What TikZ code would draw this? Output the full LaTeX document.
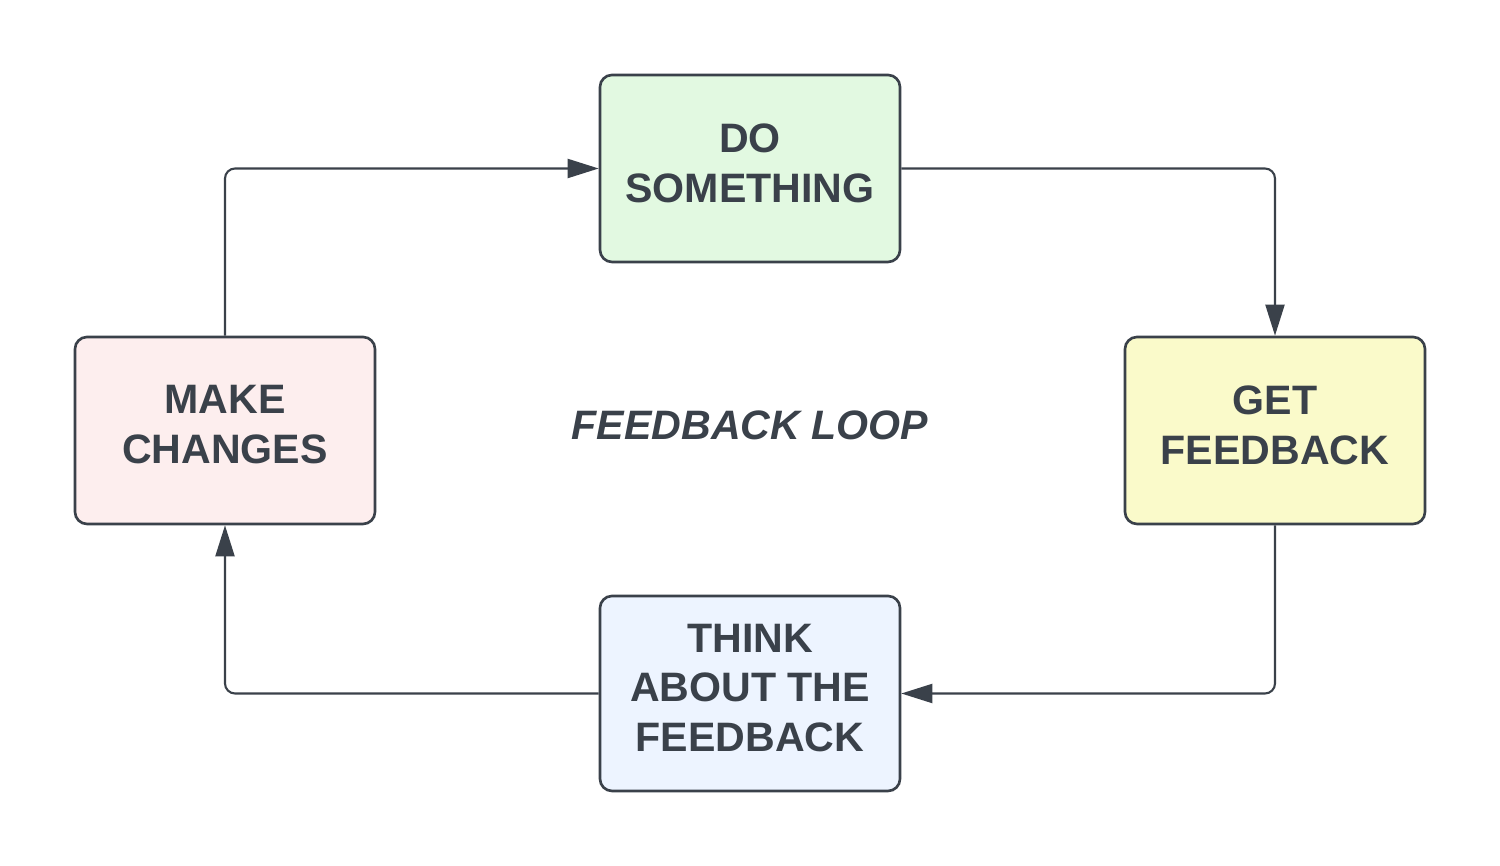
\documentclass[tikz,border=0pt]{standalone}
\usepackage{fontspec}
\setmainfont{Liberation Sans}
\usetikzlibrary{arrows.meta,positioning}

\definecolor{ink}{HTML}{3A414A}
\definecolor{dofill}{HTML}{E2F9E1}
\definecolor{getfill}{HTML}{FAFACA}
\definecolor{thinkfill}{HTML}{EDF4FF}
\definecolor{makefill}{HTML}{FDEEEE}

\begin{document}
\begin{tikzpicture}[
        stage/.style = {draw = ink, line width = 0.75pt, rounded corners = 0.12cm,
            minimum width = 3cm, minimum height = 1.87cm, inner sep = 0pt},
        caption/.style = {align = center, text = ink, inner sep = 0pt, yshift = 0.055cm,
            font = \fontsize{11.7}{14.2}\selectfont\bfseries},
        flow/.style = {draw = ink, line width = 0.6pt, rounded corners = 0.1cm,
            -{Triangle[length = 0.31cm, width = 0.19cm]}}
    ]
        \useasboundingbox (0,0) rectangle (15,8.66);

        % Stages of the loop
        \node[stage, fill = dofill, label = {[caption]center:DO\\SOMETHING}] (do) at (7.5,6.975) {};
        \node[stage, fill = getfill, label = {[caption]center:GET\\FEEDBACK}] (get) at (12.75,4.355) {};
        \node[stage, fill = thinkfill, minimum height = 1.95cm, label = {[caption]center:THINK\\ABOUT THE\\FEEDBACK}] (think) at (7.5,1.725) {};
        \node[stage, fill = makefill, label = {[caption]center:MAKE\\CHANGES}] (make) at (2.25,4.355) {};
        \node[text = ink, font = \fontsize{11.7}{14.2}\selectfont\bfseries\itshape] (loop) at (7.5,4.41) {FEEDBACK LOOP};

        % Arrows round the loop
        \draw[flow] (make.north) |- (do.west);
        \draw[flow] (do.east) -| (get.north);
        \draw[flow] (get.south) |- (think.east);
        \draw[flow] (think.west) -| (make.south);
    \end{tikzpicture}
\end{document}
